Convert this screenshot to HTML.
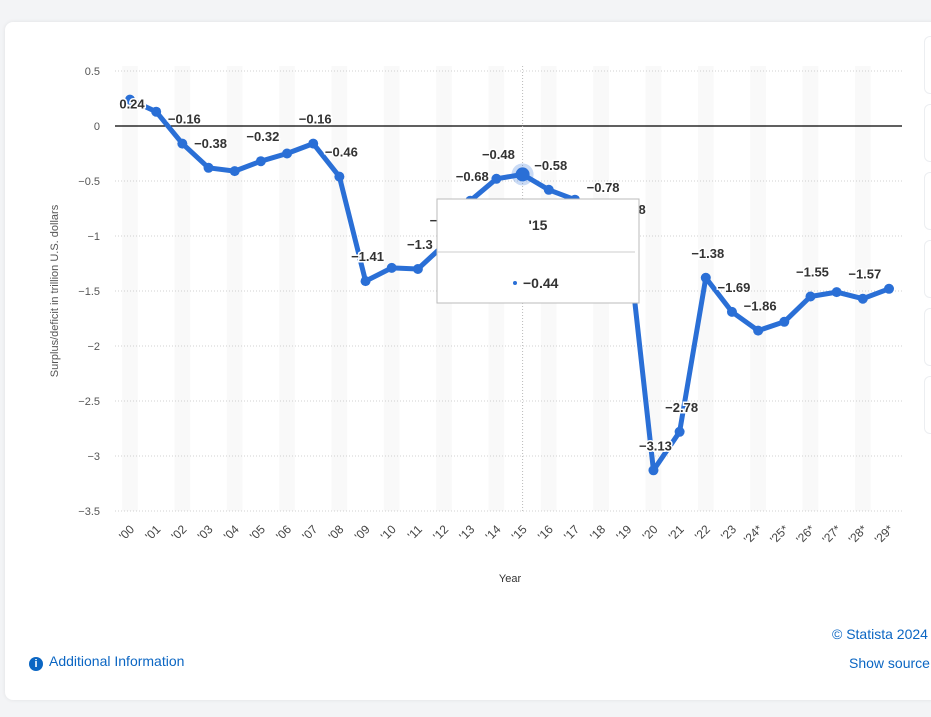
<!DOCTYPE html>
<html><head><meta charset="utf-8"><style>
body{margin:0;width:931px;height:717px;background:#f3f4f6;font-family:"Liberation Sans",sans-serif;overflow:hidden;position:relative}
#card{position:absolute;left:5px;top:22px;width:940px;height:678px;background:#fff;border-radius:8px;box-shadow:0 0 4px rgba(0,0,0,.08)}
.side{position:absolute;left:924px;width:20px;height:56px;background:#fff;border:1px solid #eceef1;border-radius:6px}
</style></head><body>
<div id="card"></div>
<div class="side" style="top:36px"></div>
<div class="side" style="top:104px"></div>
<div class="side" style="top:172px"></div>
<div class="side" style="top:240px"></div>
<div class="side" style="top:308px"></div>
<div class="side" style="top:376px"></div>
<svg id="chart" width="931" height="717" style="position:absolute;left:0;top:0"></svg>
<div style="position:absolute;left:29px;top:653px;font-size:14px;color:#0b66c3"><span style="display:inline-block;width:14px;height:14px;border-radius:7px;background:#0b66c3;color:#fff;font-size:11px;text-align:center;line-height:14px;font-weight:bold;margin-right:6px;vertical-align:-1px">i</span>Additional Information</div>
<div style="position:absolute;left:832px;top:626px;font-size:14px;color:#0b66c3;white-space:nowrap">© Statista 2024</div>
<div style="position:absolute;left:849px;top:655px;font-size:14px;color:#0b66c3;white-space:nowrap">Show source</div>
<script>
const categories=["'00","'01","'02","'03","'04","'05","'06","'07","'08","'09","'10","'11","'12","'13","'14","'15","'16","'17","'18","'19","'20","'21","'22","'23","'24*","'25*","'26*","'27*","'28*","'29*"];
const values=[0.24,0.13,-0.16,-0.38,-0.41,-0.32,-0.25,-0.16,-0.46,-1.41,-1.29,-1.3,-1.08,-0.68,-0.48,-0.44,-0.58,-0.67,-0.78,-0.98,-3.13,-2.78,-1.38,-1.69,-1.86,-1.78,-1.55,-1.51,-1.57,-1.48];
const labelShown=[1,0,1,1,0,1,0,1,1,1,0,1,1,1,1,0,1,0,1,1,1,1,1,1,1,0,1,0,1,0];
const yTicks=[0.5,0,-0.5,-1,-1.5,-2,-2.5,-3,-3.5];
const tooltipIndex=15;
const NS="http://www.w3.org/2000/svg",svg=document.getElementById('chart');
const x0=130,dx=(889-130)/29;
const X=i=>x0+i*dx, Y=v=>126-v*110;
function el(t,a,p){const e=document.createElementNS(NS,t);for(const k in a)e.setAttribute(k,a[k]);(p||svg).appendChild(e);return e;}
function fmt(v){return (v<0?'\u2212':'')+Math.abs(v).toString();}
for(let i=0;i<categories.length;i++){
 if(i%2==0){const b=el('rect',{x:X(i)-dx*0.3,y:66,width:dx*0.6,height:445,fill:'#f9f9f9'});
 
 }
}
yTicks.forEach(t=>{
 if(t!==0){const g=el('line',{x1:115,x2:902,y1:Y(t),y2:Y(t),stroke:'#d0d0d0','stroke-dasharray':'1,2'});
 
 }
 const tx=el('text',{x:100,y:Y(t)+4,'text-anchor':'end','font-size':11,fill:'#555'});tx.textContent=t===0?'0':fmt(t);
 
 
});
const z=el('line',{x1:115,x2:902,y1:Y(0),y2:Y(0),stroke:'#000','stroke-width':1.2});


const vl=el('line',{x1:X(tooltipIndex),x2:X(tooltipIndex),y1:66,y2:511,stroke:'#bbb','stroke-dasharray':'1,2'});


categories.forEach((c,i)=>{
 const t=el('text',{x:X(i)+5,y:530,'text-anchor':'end','font-size':12,fill:'#444',transform:`rotate(-45 ${X(i)+5} 530)`});t.textContent=c;
 
 
});
const yt=el('text',{x:58,y:291,'text-anchor':'middle','font-size':11,fill:'#555',transform:'rotate(-90 58 291)'});yt.textContent='Surplus/deficit in trillion U.S. dollars';


const xt=el('text',{x:510,y:582,'text-anchor':'middle','font-size':11,fill:'#333'});xt.textContent='Year';


const line=el('polyline',{points:values.map((v,i)=>X(i)+','+Y(v)).join(' '),fill:'none',stroke:'#2a6fd6','stroke-width':5,'stroke-linejoin':'round'});


values.forEach((v,i)=>{
 if(i===tooltipIndex){el('circle',{cx:X(i),cy:Y(v),r:11,fill:'#2a6fd6','fill-opacity':.25});}
 const p=el('circle',{cx:X(i),cy:Y(v),r:i===tooltipIndex?7:5,fill:'#2a6fd6'});
 
 
});
values.forEach((v,i)=>{
 if(labelShown[i]){
  const lx=X(i)+2;
  const ly=i===0?Y(v)+9:Y(v)-20;
  const t=el('text',{x:lx,y:ly,'text-anchor':'middle','font-size':13,'font-weight':'bold',fill:'#333',stroke:'#fff','stroke-width':3,'paint-order':'stroke'});
  t.textContent=fmt(v);
  
  
 }
});
const g=el('g',{});


el('rect',{x:437,y:199,width:202,height:104,fill:'#fff',stroke:'#bbb'},g);
el('line',{x1:437,x2:635,y1:252,y2:252,stroke:'#ccc'},g);
const tt=el('text',{x:538,y:230,'text-anchor':'middle','font-size':14,'font-weight':'bold',fill:'#333'},g);tt.textContent=categories[tooltipIndex];
el('circle',{cx:515,cy:283,r:2,fill:'#2a6fd6'},g);
const tv=el('text',{x:523,y:288,'font-size':14,'font-weight':'bold',fill:'#333'},g);tv.textContent=fmt(values[tooltipIndex]);
</script>
</body></html>
